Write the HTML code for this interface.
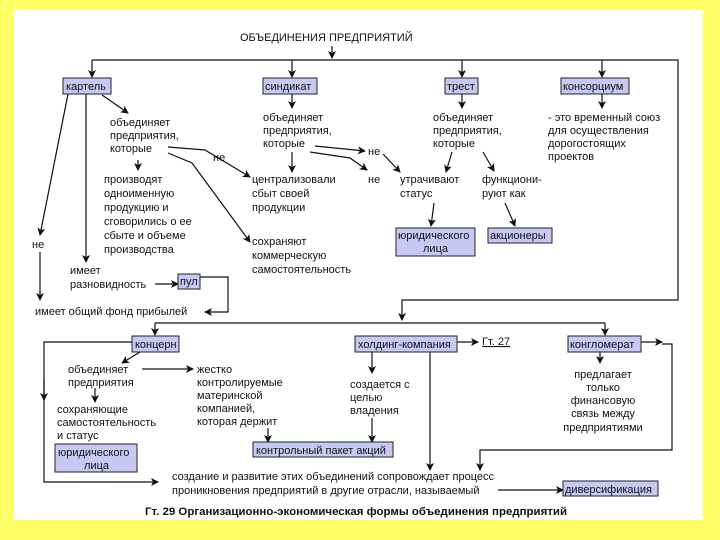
<!DOCTYPE html>
<html><head><meta charset="utf-8"><style>
html,body{margin:0;padding:0;background:#ffff66;}
svg{display:block;}
text{font-family:"Liberation Sans",sans-serif;font-size:11px;fill:#111;}
.b{fill:#c8c8f4;stroke:#222;stroke-width:1;}
.l{stroke:#111;stroke-width:1.2;fill:none;}
</style></head><body>
<svg width="720" height="540" viewBox="0 0 720 540" xmlns="http://www.w3.org/2000/svg">
<defs><marker id="a" markerWidth="8" markerHeight="8" refX="7" refY="4" orient="auto" markerUnits="userSpaceOnUse"><path d="M0,0 L8,4 L0,8 L2,4z" fill="#111"/></marker></defs>
<rect x="0" y="0" width="720" height="540" fill="#ffff66"/>
<rect x="14" y="10" width="689" height="510" fill="#fff"/>
<text x="240" y="41">ОБЪЕДИНЕНИЯ ПРЕДПРИЯТИЙ</text>
<g class="l">
<path d="M332,46 V58" marker-end="url(#a)"/>
<path d="M92,60 H678 V300 H402 V320" marker-end="url(#a)"/>
<path d="M92,60 V77" marker-end="url(#a)"/>
<path d="M292,60 V77" marker-end="url(#a)"/>
<path d="M462,60 V77" marker-end="url(#a)"/>
<path d="M602,60 V77" marker-end="url(#a)"/>
<path d="M68,94 L40,235" marker-end="url(#a)"/>
<path d="M40,252 V300" marker-end="url(#a)"/>
<path d="M86,94 V262" marker-end="url(#a)"/>
<path d="M102,95 L128,113" marker-end="url(#a)"/>
<path d="M138,160 V170" marker-end="url(#a)"/>
<path d="M168,147 L205,150 L250,177" marker-end="url(#a)"/>
<path d="M168,153 L192,163 L250,242" marker-end="url(#a)"/>
<path d="M292,94 V108" marker-end="url(#a)"/>
<path d="M292,152 V172" marker-end="url(#a)"/>
<path d="M315,146 L365,151" marker-end="url(#a)"/>
<path d="M310,152 L350,158 L367,170" marker-end="url(#a)"/>
<path d="M383,154 L400,172" marker-end="url(#a)"/>
<path d="M462,94 V108" marker-end="url(#a)"/>
<path d="M452,152 L446,172" marker-end="url(#a)"/>
<path d="M483,152 L494,171" marker-end="url(#a)"/>
<path d="M434,203 L431,226" marker-end="url(#a)"/>
<path d="M505,203 L515,226" marker-end="url(#a)"/>
<path d="M602,94 V108" marker-end="url(#a)"/>
<path d="M155,284 H178" marker-end="url(#a)"/>
<path d="M200,277 H228 V312 H205" marker-end="url(#a)"/>
<path d="M155,323 H605" />
<path d="M155,323 V335" marker-end="url(#a)"/>
<path d="M605,323 V335" marker-end="url(#a)"/>
<path d="M132,342 H44 V482 H158" marker-end="url(#a)"/>
<path d="M44,380 V400" marker-end="url(#a)"/>
<path d="M140,352 L122,363" marker-end="url(#a)"/>
<path d="M95,388 V402" marker-end="url(#a)"/>
<path d="M142,369 H193" marker-end="url(#a)"/>
<path d="M268,428 V442" marker-end="url(#a)"/>
<path d="M372,351 V373" marker-end="url(#a)"/>
<path d="M372,418 V442" marker-end="url(#a)"/>
<path d="M430,351 V470" marker-end="url(#a)"/>
<path d="M457,342 H478" marker-end="url(#a)"/>
<path d="M600,351 V363" marker-end="url(#a)"/>
<path d="M641,342 H662" marker-end="url(#a)"/>
<path d="M662,344 H672 V450 H480 V470" marker-end="url(#a)"/>
<path d="M498,490 H563" marker-end="url(#a)"/>
</g>
<rect class="b" x="63" y="78" width="48" height="16"/><text x="66" y="90">картель</text>
<rect class="b" x="263" y="78" width="54" height="16"/><text x="265" y="90">синдикат</text>
<rect class="b" x="445" y="78" width="33" height="16"/><text x="447" y="90">трест</text>
<rect class="b" x="561" y="78" width="68" height="16"/><text x="563" y="90">консорциум</text>
<rect class="b" x="178" y="274" width="22" height="15"/><text x="180" y="285">пул</text>
<rect class="b" x="396" y="228" width="79" height="28"/><text x="398" y="239">юридического</text><text x="423" y="252">лица</text>
<rect class="b" x="488" y="228" width="64" height="15"/><text x="490" y="239">акционеры</text>
<text x="110" y="126">объединяет</text><text x="110" y="139">предприятия,</text><text x="110" y="152">которые</text>
<text x="104" y="183">производят</text><text x="104" y="197">одноименную</text><text x="104" y="211">продукцию и</text><text x="104" y="225">сговорились о ее</text><text x="104" y="239">сбыте и объеме</text><text x="104" y="253">производства</text>
<text x="32" y="248">не</text>
<text x="70" y="274">имеет</text><text x="70" y="288">разновидность</text>
<text x="35" y="315">имеет общий фонд прибылей</text>
<text x="213" y="161">не</text>
<text x="263" y="121">объединяет</text><text x="263" y="134">предприятия,</text><text x="263" y="147">которые</text>
<text x="252" y="183">централизовали</text><text x="252" y="197">сбыт своей</text><text x="252" y="211">продукции</text>
<text x="252" y="245">сохраняют</text><text x="252" y="259">коммерческую</text><text x="252" y="273">самостоятельность</text>
<text x="368" y="155">не</text><text x="368" y="183">не</text>
<text x="433" y="121">объединяет</text><text x="433" y="134">предприятия,</text><text x="433" y="147">которые</text>
<text x="400" y="183">утрачивают</text><text x="400" y="197">статус</text>
<text x="482" y="183">функциони-</text><text x="482" y="197">руют как</text>
<text x="548" y="121">- это временный союз</text><text x="548" y="134">для осуществления</text><text x="548" y="147">дорогостоящих</text><text x="548" y="160">проектов</text>
<rect class="b" x="132" y="336" width="47" height="16"/><text x="135" y="348">концерн</text>
<rect class="b" x="355" y="336" width="102" height="16"/><text x="358" y="348">холдинг-компания</text>
<text x="482" y="345" text-decoration="underline">Гт. 27</text>
<rect class="b" x="568" y="336" width="73" height="16"/><text x="570" y="348">конгломерат</text>
<text x="68" y="373">объединяет</text><text x="68" y="386">предприятия</text>
<text x="57" y="413">сохраняющие</text><text x="57" y="426">самостоятельность</text><text x="57" y="439">и статус</text>
<rect class="b" x="55" y="444" width="82" height="28"/><text x="58" y="456">юридического</text><text x="84" y="469">лица</text>
<text x="197" y="373">жестко</text><text x="197" y="386">контролируемые</text><text x="197" y="399">материнской</text><text x="197" y="412">компанией,</text><text x="197" y="425">которая держит</text>
<rect class="b" x="253" y="442" width="140" height="15"/><text x="256" y="454">контрольный пакет акций</text>
<text x="350" y="388">создается с</text><text x="350" y="401">целью</text><text x="350" y="414">владения</text>
<g text-anchor="middle"><text x="603" y="378">предлагает</text><text x="603" y="391">только</text><text x="603" y="404">финансовую</text><text x="603" y="417">связь между</text><text x="603" y="431">предприятиями</text></g>
<text x="172" y="480">создание и развитие этих объединений сопровождает процесс</text>
<text x="172" y="494">проникновения предприятий в другие отрасли, называемый</text>
<rect class="b" x="563" y="481" width="95" height="15"/><text x="565" y="493">диверсификация</text>
<text x="145" y="515" style="font-size:11.3px;font-weight:bold" textLength="422" lengthAdjust="spacingAndGlyphs">Гт. 29 Организационно-экономическая формы объединения предприятий</text>
</svg>
</body></html>
